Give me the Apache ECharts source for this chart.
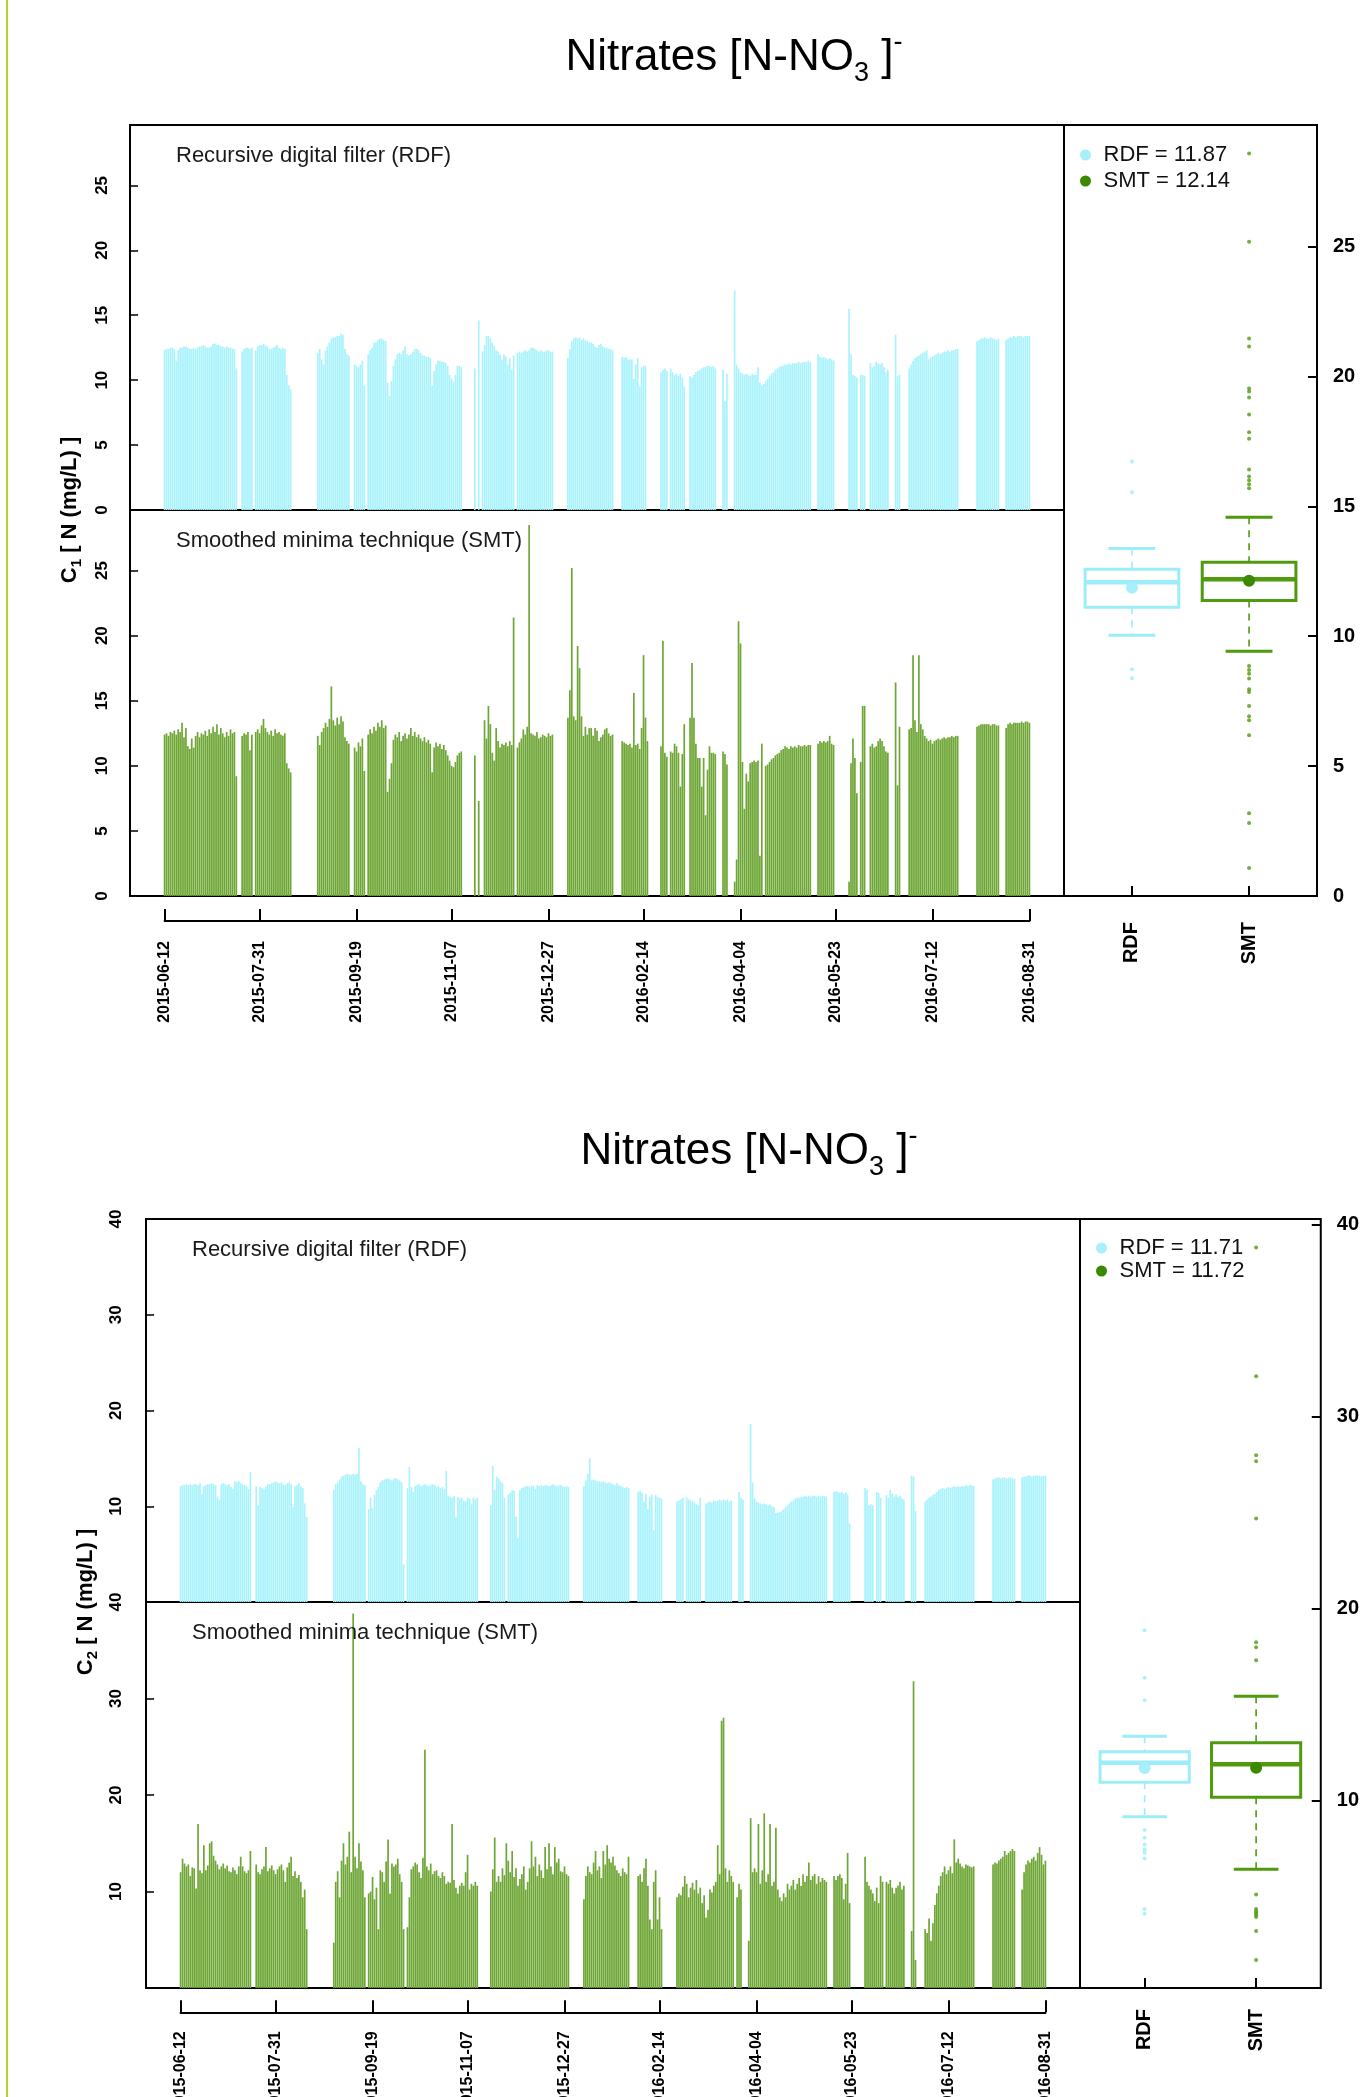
<!DOCTYPE html>
<html>
<head>
<meta charset="utf-8">
<title>Nitrates [N-NO3]-</title>
<script src="https://cdn.jsdelivr.net/npm/echarts@6/dist/echarts.min.js"></script>
<style>
  html, body { margin: 0; padding: 0; background: #fff; }
  #page { position: relative; width: 1362px; height: 2097px; overflow: hidden; }
  #chart { width: 1362px; height: 2097px; }
  #edge { position: absolute; left: 6px; top: 0; width: 2px; height: 2097px; background: #b3d335; }
</style>
</head>
<body>
<div id="page"><div id="chart"></div><div id="edge"></div></div>
<script>
// daily values, 2015-06-12 .. 2016-08-31 (447 days), null = no data
var tickDays = [0, 49, 99, 148, 198, 247, 297, 346, 396, 446];
var tickLabels = ['2015-06-12', '2015-07-31', '2015-09-19', '2015-11-07', '2015-12-27',
                  '2016-02-14', '2016-04-04', '2016-05-23', '2016-07-12', '2016-08-31'];
var boxNames = ['RDF', 'SMT'];

// C1, recursive digital filter
var rdf1 = [
  12.3, 12.4, 12.4, 12.5, 12.5, 12.4, 11.5, 12.3, 12.5, 12.5, 12.6, 12.6, 12.5, 12.4, 12.4, 12.5, 12.4, 12.5, 12.6, 12.6, 12.7, 12.6, 12.5, 12.5, 12.6, 12.8, 12.8, 12.7, 12.7, 12.6, 12.6, 12.5, 12.6, 12.5, 12.5, 12.4, 12.4, 10.9,
  null, null,
  12.2, 12.4, 12.5, 12.5, 12.4, 12.5, null, 12.3, 12.6, 12.7, 12.7, 12.8, 12.7, 12.6, 12.4, 12.4, 12.5, 12.6, 12.7, 12.5, 12.4, 12.5, 12.4, 10.4, 9.6, 9.3,
  null, null, null, null, null, null, null, null, null, null, null, null, null,
  12.1, 12.4, 11.6, 11.2, 12.3, 12.6, 12.9, 13.2, 13.3, 13.3, 13.4, 13.4, 13.6, 13.5, 12.4, 12.0, 11.9, null,
  null, 11.2, 11.1, 11.0, 11.2, 11.5, 9.6, null, 12.0, 12.3, 12.5, 12.9, 12.9, 13.1, 13.2, 13.2, 13.1, 13.0, 9.8, 8.8,
  9.9, 11.1, 11.6, 12.0, 12.1, 12.0, 12.3, 12.6, 12.0, 11.9, 12.0, 12.2, 12.4, 12.4, 12.3, 12.1, 11.9, 11.9, 11.8, 11.8, 11.7, 9.6,
  10.7, 11.2, 11.5, 11.5, 11.4, 11.4, 11.3, 11.1, 10.4, 10.1, 9.9, 10.4, 11.1, 11.1, 11.0,
  null, null, null, null, null, null,
  10.9, null, 14.6, null, 12.2, 12.7, 13.4, 13.4, 13.2, 12.9, 12.6, 12.3, 12.2, 12.0, 11.6, 12.0, 11.8, 11.2, 11.7, 10.8, 11.9, null,
  12.1, 12.2, 12.1, 12.2, 12.3, 12.2, 12.3, 12.5, 12.5, 12.4, 12.3, 12.2, 12.3, 12.2, 12.2, 12.3, 12.3, 12.2, 12.2,
  null, null, null, null, null, null, null,
  11.7, 12.4, 13.0, 13.2, 13.3, 13.2, 13.3, 13.1, 13.2, 13.1, 13.0, 12.9, 12.9, 12.8, 12.6, 12.5, 12.7, 12.8, 12.6, 12.5, 12.5, 12.4, 12.4, 12.3,
  null, null, null, null,
  11.8, 11.7, 11.8, 11.6, 11.6, 11.6, 10.1, 11.2, 11.7, 9.5, 11.0, 11.1, 11.1, null,
  null, null, null, null, null, null,
  10.6, 10.8, 10.9, 10.7, null, 10.9, 10.6, 10.4, 10.5, 10.3, 10.5, 10.2, 9.5, null, null, 10.3, 10.2, 10.4, 10.6, 10.7, 10.8, 10.9, 11.0, 11.0, 11.1, 11.1, 11.0, 11.1, 10.9,
  null, null, null, 10.8, 8.4, 10.5, null, null, null,
  16.9, 11.2, 10.9, 10.6, 10.5, 10.4, 10.5, 10.4, 10.3, 10.5, 10.4, 10.4, 11.0, 9.8, 9.6, 9.7,
  9.9, 10.1, 10.3, 10.5, 10.6, 10.8, 10.9, 11.0, 11.1, 11.1, 11.2, 11.2, 11.3, 11.2, 11.3, 11.3, 11.3, 11.4, 11.3, 11.4, 11.4, 11.4, 11.5, 11.4,
  null, null, null,
  12.0, 11.8, 11.7, 11.8, 11.7, 11.6, 11.7, 11.6, 11.5,
  null, null, null, null, null, null, null,
  15.5, 12.0, 10.4, 10.3, 10.2, null, 10.4, 10.4, 10.3, null, null, 11.3, 11.0, 11.1, 11.4, 11.3, 11.2, 11.3, 11.0, 10.6, 10.8,
  null, null, null,
  13.5, 10.3, 10.4,
  null, null, null, null,
  10.9, 11.2, 11.5, 11.7, 11.8, 11.9, 12.0, 12.1, 12.2, 12.3, 11.6, 11.7, 11.8, 11.9, 12.0, 12.1, 12.0, 12.1, 12.2, 12.2, 12.3, 12.2, 12.3, 12.3, 12.4, 12.4,
  null, null, null, null, null, null, null, null, null,
  13.0, 13.1, 13.2, 13.2, 13.3, 13.2, 13.2, 13.3, 13.2, 13.2, 13.1, 13.2,
  null, null, null,
  13.1, 13.2, 13.3, 13.3, 13.4, 13.3, 13.4, 13.4, 13.4, 13.3, 13.4, 13.4, 13.4
];

// C1, smoothed minima technique
var smt1 = [
  12.4, 12.5, 12.3, 12.6, 12.5, 12.7, 12.4, 12.8, 12.6, 13.3, 12.2, 12.9, 11.5, 11.3, 12.1, 11.4, 12.3, 12.6, 12.2, 12.5, 12.4, 12.7, 12.3, 12.8, 12.5, 13.0, 12.6, 13.2, 12.4, 12.9, 12.5, 12.2, 12.6, 12.3, 12.8, 12.5, 12.6, 9.2,
  null, null,
  12.3, 12.5, 12.4, 12.6, 11.2, 12.4, null, 12.6, 12.8, 12.5, 13.1, 13.6, 12.9, 12.6, 12.4, 12.7, 12.3, 12.8, 12.5, 12.6, 12.4, 12.3, 12.5, 10.2, 9.8, 9.5,
  null, null, null, null, null, null, null, null, null, null, null, null, null,
  12.3, 11.6, 12.6, 12.9, 13.3, 13.0, 13.6, 16.1, 13.5, 13.1, 13.7, 13.2, 13.8, 13.4, 12.2, 11.9, 11.7, null,
  null, 11.4, 11.1, 11.8, 11.5, 12.1, 9.6, null, 12.4, 12.8, 12.5, 13.0, 12.7, 13.3, 13.0, 13.5, 12.9, 13.1, 8.0, 9.0,
  10.2, 12.0, 12.4, 12.2, 12.6, 11.9, 12.3, 12.5, 12.1, 12.4, 12.9, 12.3, 12.6, 12.2, 12.4, 12.1, 11.9, 12.2, 11.8, 12.0, 11.7, 9.5,
  11.4, 11.8, 11.5, 11.7, 11.3, 11.6, 11.2, 10.8, 10.4, 10.0, 9.9, 10.3, 10.8, 11.0, 11.1,
  null, null, null, null, null, null,
  10.8, null, 7.3, null, null, 13.5, 12.1, 14.6, 13.2, 11.0, 10.4, 12.9, 11.9, 11.4, 11.7, 11.6, 11.8, 11.5, 11.9, 11.6, 21.4, null,
  11.4, 11.8, 12.1, 12.8, 12.4, 13.0, 28.5, 12.5, 12.4, 12.3, 12.6, 12.1, 12.2, 12.4, 12.3, 12.2, 12.5, 12.3, 12.4,
  null, null, null, null, null, null, null,
  13.7, 15.8, 25.2, 13.8, 13.5, 19.2, 17.5, 13.8, 12.3, 13.0, 12.4, 12.9, 12.9, 12.3, 12.9, 12.7, 11.9, 12.2, 12.4, 12.8, 12.9, 12.5, 12.3, 12.4,
  null, null, null, null,
  11.9, 11.8, 11.7, 11.6, 11.7, 11.4, 15.6, 11.6, 11.7, 11.3, 12.9, 18.5, 13.7, 11.9,
  null, null, null, null, null, null,
  11.5, 19.6, 11.0, 10.7, null, 11.1, 11.0, 11.7, 11.5, 11.0, 8.4, 10.9, 13.2, null, null, 13.7, 17.9, 13.7, 11.7, 10.6, 10.6, 8.4, 10.6, 6.2, 9.7, 11.5, 11.0, 11.0, 10.9,
  null, null, null, 11.1, 10.9, 10.1, null, null, null,
  1.1, 2.8, 21.1, 19.4, 10.3, 6.7, 9.4, 8.8, 10.2, 10.3, 10.4, 10.3, 10.4, 3.1, 11.7, null,
  10.0, 10.1, 10.3, 10.5, 10.6, 10.8, 10.9, 11.0, 11.2, 11.3, 11.5, 11.4, 11.3, 11.5, 11.4, 11.5, 11.4, 11.6, 11.5, 11.5, 11.6, 11.5, 11.6, 11.6,
  null, null, null,
  11.7, 11.9, 11.8, 11.9, 11.8, 11.9, 12.3, 11.7, 11.6,
  null, null, null, null, null, null, null,
  1.1, 10.2, 12.1, 10.6, 7.9, null, 10.3, 14.6, 14.6, null, null, 11.5, 11.7, 11.4, 11.5, 11.9, 12.1, 11.9, 11.5, 11.1, 11.0,
  null, null, null,
  16.4, 8.5, 13.0,
  null, null, null, null,
  12.8, 12.9, 18.5, 13.5, 12.6, 18.5, 13.2, 12.8, 12.3, 12.1, 11.9, 12.0, 11.7, 11.9, 12.0, 12.1, 12.0, 12.1, 12.2, 12.1, 12.2, 12.2, 12.3, 12.2, 12.3, 12.3,
  null, null, null, null, null, null, null, null, null,
  13.0, 13.1, 13.2, 13.2, 13.2, 13.2, 13.2, 13.1, 13.2, 13.2, 13.1, 13.1,
  null, null, null,
  12.9, 13.2, 13.3, 13.2, 13.3, 13.3, 13.3, 13.3, 13.4, 13.3, 13.4, 13.4, 13.3
];

// C2, recursive digital filter
var rdf2 = [
  12.1, 12.2, 12.2, 12.3, 12.2, 12.3, 12.2, 12.3, 12.3, 12.2, 12.4, 11.3, 12.1, 12.2, 12.3, 12.3, 12.4, 12.3, 12.2, 11.0, 10.7, 12.3, 12.4, 12.3, 12.2, 12.3, 12.0, 11.8, 12.6, 12.5, 12.6, 12.4, 12.3, 12.2, 12.1, 11.8, 13.6,
  null, null,
  12.1, 10.1, 12.0, 11.9, 11.8, 12.1, 12.3, 12.3, 12.4, 12.5, 12.6, 12.5, 12.4, 12.5, 12.3, 12.2, 12.4, 12.5, 12.3, 9.9, 12.1, 12.2, 12.4, 12.1, 11.9, 10.3, 8.9,
  null, null, null, null, null, null, null, null, null, null, null, null, null,
  11.7, 12.3, 12.5, 12.8, 13.1, 13.2, 13.3, 13.4, 13.3, 13.3, 13.4, 13.3, 13.4, 16.1, 12.6, 12.3, 12.2, null,
  9.7, 10.9, 9.8, 11.2, 11.7, 12.0, 12.5, 12.7, 12.8, 12.9, 12.9, 12.8, 12.7, 12.9, 12.9, 12.8, 12.7, 12.5, 3.9, null,
  11.9, 14.1, 12.0, 11.5, 12.1, 12.2, 12.3, 12.1, 12.2, 12.3, 12.2, 12.1, 12.2, 12.3, 12.2, 12.0, 12.1, 11.9, 12.0, 11.8, 13.7, 11.1,
  11.0, 10.9, 11.1, 8.9, 11.0, 10.8, 10.9, 10.6, 10.5, 10.9, 10.8, 10.2, 10.9, 10.7, 10.9,
  null, null, null, null, null, null,
  10.1, 14.2, 11.7, 13.1, 12.9, 12.6, 12.4, 10.9, null, 11.2, 11.4, 11.7, 11.6, 8.9, 6.7, 11.7, 11.9, 12.0, 12.1, 12.1, 12.0, 12.2,
  12.1, 11.8, 12.2, 12.1, 12.2, 12.1, 12.2, 12.2, 12.1, 12.2, 12.3, 12.2, 12.1, 12.2, 12.2, 12.1, 12.0, 12.1, 12.0,
  null, null, null, null, null, null, null,
  12.1, 12.7, 13.4, 15.0, 12.7, 12.8, 12.7, 12.6, 12.6, 12.5, 12.6, 12.5, 12.4, 12.5, 12.4, 12.3, 12.2, 12.4, 12.2, 12.1, 12.0, 11.9, 12.0, 11.9,
  null, null, null, null,
  11.5, 11.6, 11.4, 10.5, 11.3, 9.7, 11.0, 11.2, 7.5, 11.2, 11.0, 10.9, 10.8, null,
  null, null, null, null, null, null,
  10.5, 10.6, 10.7, 10.9, null, 10.9, 10.7, 10.6, 10.5, 10.4, 10.2, 10.1, 10.9, null, null, 10.3, 10.4, 10.5, 10.4, 10.6, 10.5, 10.6, 10.7, 10.6, 10.7, 10.6, 10.7, 10.5, 10.6,
  null, null, null, 11.5, 10.9, 10.7, null, null, null,
  18.6, 12.5, 10.9, 10.5, 10.4, 10.3, 10.2, 10.3, 10.2, 10.1, 10.2, 10.0, 9.9, 9.3, 9.3, 9.4,
  9.5, 9.7, 9.9, 10.1, 10.3, 10.5, 10.6, 10.8, 10.9, 10.9, 11.0, 11.0, 11.1, 11.0, 11.1, 11.0, 11.1, 11.1, 11.0, 11.1, 11.0, 11.1, 11.1, 11.0,
  null, null, null,
  11.5, 11.6, 11.5, 11.4, 11.5, 11.3, 11.4, 11.2, 8.2,
  null, null, null, null, null, null, null,
  11.9, 11.7, 10.1, 10.2, 10.1, null, 11.5, 11.4, 10.9, null, null, 11.2, 10.9, 11.7, 11.3, 11.0, 11.2, 11.0, 11.1, 10.8, 10.7,
  null, null, null,
  13.2, 13.1, 9.5,
  null, null, null, null,
  10.5, 10.7, 10.9, 11.0, 11.2, 11.3, 11.5, 11.7, 11.8, 11.9, 11.8, 11.9, 12.0, 11.9, 12.0, 12.1, 12.0, 12.1, 12.0, 12.1, 12.1, 12.2, 12.1, 12.2, 12.2, 12.1,
  null, null, null, null, null, null, null, null, null,
  12.8, 12.9, 13.0, 13.0, 12.9, 13.0, 13.0, 12.9, 13.0, 13.0, 12.9, 12.9,
  null, null, null,
  13.0, 13.1, 13.1, 13.2, 13.2, 13.1, 13.2, 13.2, 13.2, 13.2, 13.1, 13.2, 13.2
];

// C2, smoothed minima technique
var smt2 = [
  12.0, 13.4, 12.9, 12.6, 12.8, 11.6, 12.5, 12.4, 10.3, 17.0, 12.2, 11.9, 14.8, 12.2, 12.7, 15.0, 15.2, 13.7, 13.2, 12.8, 12.3, 12.6, 12.9, 12.4, 12.7, 12.1, 12.0, 12.5, 12.2, 11.8, 12.6, 13.6, 12.6, 12.1, 11.9, 12.2, 14.2,
  null, null,
  12.8, 12.0, 11.8, 12.3, 12.6, 14.6, 12.1, 12.4, 12.7, 12.2, 11.8, 12.3, 12.6, 12.8, 12.2, 11.0, 12.5, 13.0, 13.6, 11.6, 12.1, 11.4, 11.7, 11.0, 9.4, 10.2, 6.1,
  null, null, null, null, null, null, null, null, null, null, null, null, null,
  4.7, 11.0, 12.1, 9.4, 13.2, 15.0, 12.8, 13.6, 16.2, 12.0, 38.8, 13.6, 12.4, 15.0, 13.1, 12.2, 9.4, null,
  9.8, 10.0, 11.5, 9.2, 10.4, 6.1, 12.2, 12.0, 11.0, 13.1, 15.4, 9.8, 12.9, 12.6, 12.8, 13.4, 11.8, 11.0, 6.1, null,
  6.3, 9.4, 12.3, 12.6, 13.0, 12.8, 12.0, 11.4, 13.5, 24.7, 12.6, 12.2, 12.9, 11.8, 12.1, 12.2, 11.6, 11.4, 12.0, 11.6, 10.8, 11.0,
  10.9, 17.0, 11.2, 10.4, 9.8, 10.6, 10.9, 10.6, 12.0, 13.8, 10.2, 10.8, 10.6, 11.0, 10.6,
  null, null, null, null, null, null,
  10.0, 12.3, 15.6, 11.0, 11.6, 11.0, 12.4, 11.7, 15.0, 13.2, 12.0, 14.2, 11.5, 12.4, 10.6, 11.3, 11.8, 12.6, 10.2, 11.0, 12.4, 15.2,
  12.6, 13.6, 11.6, 12.8, 12.2, 11.4, 14.6, 12.3, 15.0, 12.6, 11.8, 14.6, 13.0, 13.4, 12.1, 12.0, 12.6, 11.8, 11.6,
  null, null, null, null, null, null, null,
  9.2, 11.6, 12.6, 12.0, 11.8, 13.0, 14.2, 12.2, 12.6, 11.4, 14.2, 12.8, 14.8, 13.4, 13.0, 13.6, 12.7, 12.2, 11.9, 11.6, 12.4, 12.0, 11.8, 13.6,
  null, null, null, null,
  11.6, 11.8, 11.0, 12.4, 13.4, 10.6, 7.1, 6.1, 11.0, 12.2, 7.1, 9.4, 6.1, null,
  null, null, null, null, null, null,
  9.4, 9.8, 9.6, 10.5, 11.6, 10.8, 9.4, 10.4, 10.9, 10.2, 11.2, 9.8, 10.4, 8.8, 9.6, 7.3, 8.1, 10.2, 9.9, 10.6, 11.0, 14.8, 11.8, 27.7, 28.0, 12.4, 11.0, 12.2, 11.6,
  11.0, null, 9.4, 10.8, 10.2, null, null, null, 4.9,
  17.6, 12.0, 12.4, 12.0, 17.0, 10.8, 12.2, 18.1, 11.0, 11.8, 17.0, 10.6, 11.0, 16.6, 10.2, 9.4,
  9.0, 9.8, 9.4, 10.8, 10.2, 10.6, 11.2, 10.2, 10.8, 11.4, 10.6, 11.8, 11.0, 11.6, 13.0, 11.2, 11.6, 11.8, 10.8, 11.6, 11.0, 11.4, 11.2, 11.0,
  null, null, null,
  11.6, 11.2, 11.6, 11.8, 11.4, 9.2, 10.8, 14.0, 8.8,
  null, null, null, null, null, null, null,
  13.6, 11.0, 10.6, 10.2, 9.8, 9.0, 10.4, 8.8, 11.6, 11.0, null, 11.0, 10.8, 11.2, 10.4, 9.8, 10.4, 10.6, 11.0, 10.2, 10.6,
  null, null, null,
  5.9, 31.8, 2.9,
  null, null, null, null,
  6.1, 5.7, 7.2, 4.9, 6.7, 8.6, 9.8, 10.6, 11.6, 12.0, 12.6, 11.8, 12.2, 12.6, 11.9, 15.4, 13.0, 13.4, 12.9, 12.6, 12.4, 12.8, 12.7, 12.6, 12.5, 12.6,
  null, null, null, null, null, null, null, null, null,
  12.8, 13.0, 12.9, 13.2, 13.4, 13.6, 14.2, 13.8, 14.0, 14.2, 14.4, 14.2,
  null, null, null,
  10.2, 12.0, 12.8, 13.2, 13.0, 13.4, 13.6, 13.2, 14.0, 14.6, 13.8, 12.8, 13.2
];

// boxplots: [lower whisker, Q1, median, Q3, upper whisker] for RDF, SMT
var box1 = [[10.04, 11.12, 12.08, 12.58, 13.38], [9.42, 11.38, 12.19, 12.85, 14.58]];
var box2 = [[9.17, 10.97, 11.98, 12.55, 13.36], [6.44, 10.19, 11.90, 13.02, 15.44]];
var mean1 = [11.87, 12.14];
var mean2 = [11.71, 11.72];
var out1Rdf = [16.73, 15.54, 8.73, 8.38];
var out1Smt = [28.58, 25.19, 21.46, 21.15, 19.54, 19.42, 19.19, 18.54, 17.85, 17.60, 16.42, 16.15, 16.00, 15.85, 15.70,
               8.85, 8.70, 8.56, 8.37, 7.96, 7.85, 7.31, 6.92, 6.77, 6.19, 3.19, 2.81, 1.08];
var out2Rdf = [18.88, 16.40, 15.24, 8.48, 8.08, 7.73, 7.47, 7.30, 7.00, 4.37, 4.12];
var out2Smt = [38.80, 32.10, 27.98, 27.67, 24.70, 18.25, 17.99, 17.32, 5.13, 4.37, 4.25, 4.15, 4.05, 3.95, 3.22, 1.72];

var fontFamily = "'Liberation Sans', Arial, Helvetica, sans-serif";
var titleFont = "'Liberation Sans Narrow', 'Arial Narrow', 'Liberation Sans', Arial, sans-serif";
var cyanBar = '#aaf3fc', cyanBox = '#9cedf9', cyanDot = '#a6effb';
var greenBar = '#6ea636', greenBox = '#4f9a0e', greenDot = '#3c8800';

var nDays = rdf1.length;
var dayPad = 0.04 * (nDays - 1);   // R-style 4% axis extension

var figures = [
  {
    rdf: rdf1, smt: smt1, box: box1, mean: mean1, outRdf: out1Rdf, outSmt: out1Smt, sub: '1',
    titleX: 729, titleTop: 24,
    left: 130, split: 1064, right: 1317, top: 125, mid: 510, bottom: 896,
    yMax: 29.65, rdfTicks: [0, 5, 10, 15, 20, 25], smtTicks: [0, 5, 10, 15, 20, 25], yLabelMargin: 19,
    boxMin: 0, boxMax: 29.68, boxTicks: [0, 5, 10, 15, 20, 25], catMargin: 26,
    dateAxisY: 921, dateMargin: 20,
    nameX: 70, legendLeft: 1075, legendTop: 139, legendGap: 4
  },
  {
    rdf: rdf2, smt: smt2, box: box2, mean: mean2, outRdf: out2Rdf, outSmt: out2Smt, sub: '2',
    titleX: 744, titleTop: 1118,
    left: 146, split: 1080, right: 1334, top: 1219, mid: 1602, bottom: 1988,
    yMax: 40, rdfTicks: [10, 20, 30, 40], smtTicks: [10, 20, 30, 40], yLabelMargin: 21,
    boxMin: 0.26, boxMax: 40.28, boxTicks: [10, 20, 30, 40], catMargin: 21,
    dateAxisY: 2013, dateMargin: 19,
    nameX: 86, legendLeft: 1091, legendTop: 1232, legendGap: 1
  }
];

var option = {
  animation: false,
  backgroundColor: '#fff',
  textStyle: { fontFamily: fontFamily },
  title: [], legend: [], grid: [], xAxis: [], yAxis: [], series: [], graphic: []
};

function toBars(arr) {
  var out = [];
  arr.forEach(function (v, i) { if (v !== null) out.push([i, v]); });
  return out;
}

function addFigure(f) {
  var g = option.grid.length;
  var panelW = f.split - f.left;
  var dayMin = -dayPad, dayMax = nDays - 1 + dayPad;

  option.title.push({
    text: '{a|Nitrates [N-NO}{b|3}{a| ]}{c|-}',
    left: f.titleX, top: f.titleTop, textAlign: 'center',
    textStyle: { fontWeight: 'normal', rich: {
      a: { fontFamily: titleFont, fontSize: 44, fontWeight: 'normal', color: '#000', lineHeight: 58 },
      b: { fontFamily: titleFont, fontSize: 27, fontWeight: 'normal', color: '#000', lineHeight: 31, verticalAlign: 'bottom' },
      c: { fontFamily: titleFont, fontSize: 27, fontWeight: 'normal', color: '#000', lineHeight: 25, verticalAlign: 'top' }
    } }
  });

  // RDF and SMT time series panels
  var panels = [
    { top: f.top, bottom: f.mid, data: f.rdf, color: cyanBar, ticks: f.rdfTicks, label: 'Recursive digital filter (RDF)' },
    { top: f.mid, bottom: f.bottom, data: f.smt, color: greenBar, ticks: f.smtTicks, label: 'Smoothed minima technique (SMT)' }
  ];
  panels.forEach(function (p, j) {
    option.grid.push({ left: f.left, top: p.top, width: panelW, height: p.bottom - p.top,
      show: true, borderColor: '#000', borderWidth: 2, backgroundColor: 'transparent' });
    option.xAxis.push({ type: 'value', gridIndex: g + j, min: dayMin, max: dayMax, show: false,
      axisLine: { onZero: false } });
    option.yAxis.push({
      type: 'value', gridIndex: g + j, min: 0, max: f.yMax,
      axisLine: { show: false, onZero: false }, splitLine: { show: false },
      axisTick: { show: true, inside: true, length: 8, customValues: p.ticks, lineStyle: { color: '#000', width: 1.5 } },
      axisLabel: { customValues: p.ticks, rotate: 90, margin: f.yLabelMargin, fontSize: 17, fontWeight: 'bold', color: '#000' }
    });
    option.series.push({
      type: 'bar', name: boxNames[j], xAxisIndex: g + j, yAxisIndex: g + j,
      barWidth: 1.7, silent: true, data: toBars(p.data),
      itemStyle: { color: p.color }
    });
    option.title.push({
      text: p.label, left: f.left + 41, top: p.top + 15,
      textStyle: { fontFamily: fontFamily, fontSize: 22, fontWeight: 'normal', color: '#1a1a1a' }
    });
  });

  // boxplot panel
  var gb = g + 2;
  option.grid.push({ left: f.split, top: f.top, width: f.right - f.split, height: f.bottom - f.top,
    show: true, borderColor: '#000', borderWidth: 2, backgroundColor: 'transparent' });
  option.xAxis.push({
    type: 'value', gridIndex: gb, min: 0.42, max: 2.58,
    axisLine: { show: false, onZero: false }, splitLine: { show: false },
    axisTick: { show: true, inside: true, length: 10, customValues: [1, 2], lineStyle: { color: '#000', width: 2 } },
    axisLabel: { customValues: [1, 2], formatter: function (v) { return boxNames[v - 1]; },
      rotate: 90, margin: f.catMargin, fontSize: 20, fontWeight: 'bold', color: '#000' }
  });
  option.yAxis.push({
    type: 'value', gridIndex: gb, position: 'right', min: f.boxMin, max: f.boxMax,
    axisLine: { show: false, onZero: false }, splitLine: { show: false },
    axisTick: { show: true, inside: true, length: 9, customValues: f.boxTicks, lineStyle: { color: '#000', width: 2 } },
    axisLabel: { customValues: f.boxTicks, margin: 16, fontSize: 20, fontWeight: 'bold', color: '#000' }
  });
  var boxColors = [cyanBox, greenBox];
  option.series.push({
    type: 'custom', xAxisIndex: gb, yAxisIndex: gb, silent: true, z: 3,
    data: f.box.map(function (b, i) { return [i + 1].concat(b); }),
    renderItem: function (params, api) {
      var x = api.value(0);
      var color = boxColors[params.dataIndex];
      var hw = api.size([0.8, 0])[0] / 2;
      var lo = api.coord([x, api.value(1)]);
      var q1 = api.coord([x, api.value(2)]);
      var md = api.coord([x, api.value(3)]);
      var q3 = api.coord([x, api.value(4)]);
      var hi = api.coord([x, api.value(5)]);
      var cx = md[0];
      var dash = { stroke: color, lineWidth: 1.6, lineDash: [7, 6] };
      var solid = { stroke: color, lineWidth: 3 };
      return { type: 'group', children: [
        { type: 'line', shape: { x1: cx, y1: hi[1], x2: cx, y2: q3[1] }, style: dash },
        { type: 'line', shape: { x1: cx, y1: q1[1], x2: cx, y2: lo[1] }, style: dash },
        { type: 'line', shape: { x1: cx - hw / 2, y1: hi[1], x2: cx + hw / 2, y2: hi[1] }, style: solid },
        { type: 'line', shape: { x1: cx - hw / 2, y1: lo[1], x2: cx + hw / 2, y2: lo[1] }, style: solid },
        { type: 'rect', shape: { x: cx - hw, y: q3[1], width: 2 * hw, height: q1[1] - q3[1] },
          style: { fill: 'none', stroke: color, lineWidth: 3 } },
        { type: 'line', shape: { x1: cx - hw, y1: md[1], x2: cx + hw, y2: md[1] }, style: { stroke: color, lineWidth: 4.5 } }
      ] };
    }
  });
  [f.outRdf, f.outSmt].forEach(function (vals, i) {
    option.series.push({
      type: 'scatter', xAxisIndex: gb, yAxisIndex: gb, silent: true, z: 4,
      symbolSize: 4, itemStyle: { color: boxColors[i] },
      data: vals.map(function (v) { return [i + 1, v]; })
    });
  });
  var legendNames = [];
  f.mean.forEach(function (m, i) {
    var name = boxNames[i] + ' = ' + m.toFixed(2);
    legendNames.push(name);
    option.series.push({
      type: 'scatter', name: name, xAxisIndex: gb, yAxisIndex: gb, silent: true, z: 5,
      symbolSize: 12, itemStyle: { color: i === 0 ? cyanDot : greenDot, opacity: 1 },
      data: [[i + 1, m]]
    });
  });
  option.legend.push({
    data: legendNames, left: f.legendLeft, top: f.legendTop, orient: 'vertical',
    itemWidth: 26, itemHeight: 11, itemGap: f.legendGap, icon: 'circle', symbolKeepAspect: true,
    selectedMode: false, textStyle: { fontFamily: fontFamily, fontSize: 22, color: '#111' }
  });

  // separate date axis below the panels, spanning first to last day
  var gd = g + 3;
  var dayLeft = f.left + (0 - dayMin) / (dayMax - dayMin) * panelW;
  var dayWidth = (nDays - 1) / (dayMax - dayMin) * panelW;
  option.grid.push({ left: dayLeft, width: dayWidth, top: f.dateAxisY - 1, height: 1, show: false });
  option.xAxis.push({
    type: 'value', gridIndex: gd, min: 0, max: nDays - 1, position: 'bottom',
    splitLine: { show: false },
    axisLine: { show: true, onZero: false, lineStyle: { color: '#000', width: 2 } },
    axisTick: { show: true, inside: true, length: 12, customValues: tickDays, lineStyle: { color: '#000', width: 2 } },
    axisLabel: { customValues: tickDays, rotate: 90, margin: f.dateMargin, fontSize: 16, fontWeight: 'bold', color: '#000',
      formatter: function (v) { var k = tickDays.indexOf(v); return k < 0 ? '' : tickLabels[k]; } }
  });
  option.yAxis.push({ type: 'value', gridIndex: gd, show: false, min: 0, max: 1 });

  // y axis title centred on the two panels
  option.graphic.push({
    type: 'text', x: f.nameX, y: f.mid, rotation: Math.PI / 2, silent: true,
    style: {
      text: '{c|C}{s|' + f.sub + '}{c| [ N (mg/L) ]}',
      align: 'center', verticalAlign: 'middle',
      rich: {
        c: { fontFamily: fontFamily, fontSize: 22, fontWeight: 'bold', fill: '#000', lineHeight: 28 },
        s: { fontFamily: fontFamily, fontSize: 15, fontWeight: 'bold', fill: '#000', lineHeight: 20, verticalAlign: 'bottom' }
      }
    }
  });
}

figures.forEach(addFigure);

var chart = echarts.init(document.getElementById('chart'));
chart.setOption(option);
</script>
</body>
</html>
